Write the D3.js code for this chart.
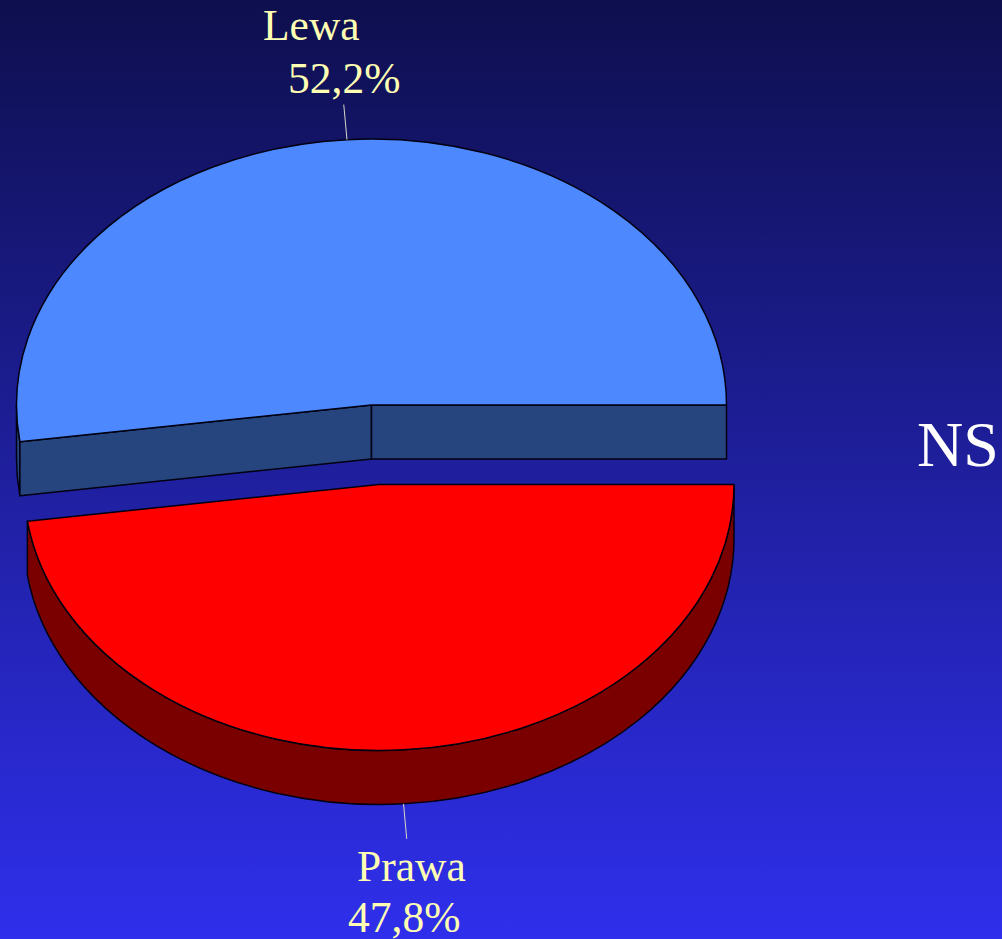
<!DOCTYPE html>
<html>
<head>
<meta charset="utf-8">
<script src="https://cdn.jsdelivr.net/npm/d3@7"></script>
<style>
  html, body { margin: 0; padding: 0; background: #1a1a90; }
  svg { display: block; }
  text { font-family: "Liberation Serif", serif; }
</style>
</head>
<body>
<svg id="chart" width="1002" height="939"></svg>
<script>
// values as printed on the slide
const categories = ['Prawa', 'Lewa'];
const shares = [47.8, 52.2];
const shareLabels = ['47,8%', '52,2%'];
const topColours = ['#ff0000', '#4d88ff'];
const wallColours = ['#7a0000', '#26457f'];
const note = 'NS';

const width = 1002, height = 939;
const svg = d3.select('#chart');

// Background goes from dark navy to bright blue
const grad = svg.append('defs').append('linearGradient')
    .attr('id', 'bg').attr('x1', 0).attr('y1', 0).attr('x2', 0).attr('y2', 1);
grad.append('stop').attr('offset', '0%').attr('stop-color', '#0e0f4e');
grad.append('stop').attr('offset', '100%').attr('stop-color', '#2f2fec');
svg.append('rect').attr('width', width).attr('height', height).attr('fill', 'url(#bg)');

// Pie layout, first slice starts at 3 o'clock and runs clockwise
const slices = d3.pie().sort(null).startAngle(Math.PI / 2).endAngle(Math.PI * 2.5)(shares);

const depth = 54;
const rx = [355, 355], ry = 266;
const centres = [[379, 484.5], [371.5, 405]]; // the red slice is pulled out

slices.forEach((s, i) => {
    const [cx, cy] = centres[i];
    const pt = (a, dy = 0) => [cx + rx[i] * Math.sin(a), cy - ry * Math.cos(a) + dy];
    const arcTo = (a0, a1, dy = 0) => {
        // elliptical arc from a0 to a1, sweep flag follows the direction
        const p = pt(a1, dy);
        const large = Math.abs(a1 - a0) > Math.PI ? 1 : 0;
        const sweep = a1 > a0 ? 1 : 0;
        return `A${rx[i]},${ry} 0 ${large} ${sweep} ${p[0]},${p[1]}`;
    };
    const g = svg.append('g')
        .attr('stroke', '#000010')
        .attr('stroke-width', 1.5)
        .attr('stroke-linejoin', 'round');

    const a0 = s.startAngle, a1 = s.endAngle;
    const side = (aFrom, aTo) => {
        const p = pt(aFrom), q = pt(aTo, depth);
        return `M${p}${arcTo(aFrom, aTo)}L${q}${arcTo(aTo, aFrom, depth)}Z`;
    };
    const cut = a => {
        const p = pt(a);
        return `M${cx},${cy}L${p}L${p[0]},${p[1] + depth}L${cx},${cy + depth}Z`;
    };

    if (i === 1) {
        // Back slice shows its two cut faces, plus a sliver of rim on the left
        g.append('path').attr('d', side(a0, 1.5 * Math.PI)).attr('fill', wallColours[i]);
        g.append('path').attr('d', cut(a0)).attr('fill', wallColours[i]);
        g.append('path').attr('d', cut(a1)).attr('fill', wallColours[i]);
    } else {
        // Front slice only shows the outer rim
        g.append('path').attr('d', side(a0, a1)).attr('fill', wallColours[i]);
    }

    const start = pt(a0);
    g.append('path')
        .attr('d', `M${cx},${cy}L${start}${arcTo(a0, a1)}Z`)
        .attr('fill', topColours[i]);

    // Leader line out of the middle of the slice
    const mid = (a0 + a1) / 2;
    const lowHalf = Math.cos(mid) < 0;
    const from = pt(mid, lowHalf ? depth : 0);
    const stretch = 1 + 35 / ry;
    svg.append('line')
        .attr('x1', from[0]).attr('y1', from[1])
        .attr('x2', cx + (from[0] - cx) * stretch)
        .attr('y2', from[1] + (lowHalf ? 35 : -35))
        .attr('stroke', '#d8d8c8')
        .attr('stroke-width', 1);
});

// Labels
const labelPos = [
    { name: [357, 881], value: [348, 932] },
    { name: [263, 40], value: [288, 93] }
];
categories.forEach((c, i) => {
    svg.append('text').attr('x', labelPos[i].name[0]).attr('y', labelPos[i].name[1])
        .attr('font-size', 43.5).attr('fill', '#ffffb4').text(c);
    svg.append('text').attr('x', labelPos[i].value[0]).attr('y', labelPos[i].value[1])
        .attr('font-size', 43.5).attr('fill', '#ffffb4').text(shareLabels[i]);
});

svg.append('text').attr('x', 917).attr('y', 466)
    .attr('font-size', 64).attr('fill', '#ffffff').text(note);
</script>
</body>
</html>
